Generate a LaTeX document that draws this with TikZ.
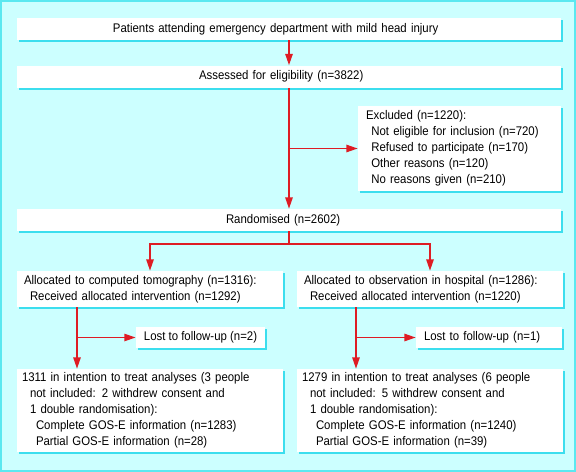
\documentclass[tikz,border=0pt]{standalone}
\usepackage{fontspec}
\setmainfont{Liberation Sans}[FakeStretch=0.91]
\usepackage{xcolor}
\usetikzlibrary{arrows.meta,shadows}
\definecolor{bgcyan}{RGB}{204,255,255}
\definecolor{edgecyan}{RGB}{90,232,240}
\definecolor{shadecyan}{RGB}{60,222,238}
\definecolor{arrowred}{RGB}{222,28,36}
\begin{document}
\begin{tikzpicture}[x=0.75pt,y=-0.75pt,
box/.style={fill=white,inner ysep=0pt,font=\fontsize{9.4}{12}\selectfont,drop shadow={shadow xshift=1.8pt,shadow yshift=-1.8pt,fill=shadecyan,opacity=1}},
wide/.style n args={2}{box,align=left,minimum height=16.5pt,inner xsep=#1,text width=#2},
half/.style={box,align=left,inner xsep=5.25pt,text width=189pt,minimum height=27pt},
result/.style={box,align=left,inner xsep=3.75pt,text width=192pt,minimum height=62.25pt},
lost/.style={box,align=left,inner xsep=6pt,minimum height=15.75pt},
arr/.style={arrowred,line width=1.2pt,-{Triangle[length=8.5pt,width=5.5pt]}}]
\useasboundingbox (0,0) rectangle (576,472);
\fill[bgcyan] (0,0) rectangle (576,472);
\draw[edgecyan,line width=1.5pt] (1,1) rectangle (575,471);
\node (1) at (289,29) [wide={72pt}{264pt}] {Patients attending emergency department with mild head injury};
\node (2) at (289,76.5) [wide={136.5pt}{135pt}] {Assessed for eligibility (n=3822)};
\node (3) at (459.5,148.5) [box,align=left,inner xsep=6pt,text width=140.25pt,minimum height=63.75pt] {Excluded (n=1220):\\\hspace*{4pt}Not eligible for inclusion (n=720)\\\hspace*{4pt}Refused to participate (n=170)\\\hspace*{4pt}Other reasons (n=120)\\\hspace*{4pt}No reasons given (n=210)};
\node (4) at (289,220) [wide={156.75pt}{94.5pt}] {Randomised (n=2602)};
\node (5) at (150,289) [half] {Allocated to computed tomography (n=1316):\\\hspace*{4.5pt}Received allocated intervention (n=1292)};
\node (6) at (430,289) [half] {Allocated to observation in hospital (n=1286):\\\hspace*{4.5pt}Received allocated intervention (n=1220)};
\node (7) at (200.5,337.5) [lost,minimum width=96.75pt] {Lost to follow-up (n=2)};
\node (8) at (489,337.5) [lost,text width=97.5pt] {Lost to follow-up (n=1)};
\node (9) at (150,410.5) [result] {1311 in intention to treat analyses (3 people\\\hspace*{6pt}not included: 2 withdrew consent and\\\hspace*{6pt}1 double randomisation):\\\hspace*{10.5pt}Complete GOS-E information (n=1283)\\\hspace*{10.5pt}Partial GOS-E information (n=28)};
\node (10) at (430,410.5) [result] {1279 in intention to treat analyses (6 people\\\hspace*{6pt}not included: 5 withdrew consent and\\\hspace*{6pt}1 double randomisation):\\\hspace*{10.5pt}Complete GOS-E information (n=1240)\\\hspace*{10.5pt}Partial GOS-E information (n=39)};
\coordinate (a) at (77,307);
\coordinate (b) at (356,307);
\draw[arr] (1) -- (2);
\draw[arr] (2) -- (4);
\draw[arr] (2.south |- 3.west) -- (3.west);
\draw[arr] (4.south) -- ++(0,13) -| (5.north);
\draw[arr] (4.south) -- ++(0,13) -| (6.north);
\draw[arr] (a) -- (a |- 9.north);
\draw[arr] (a |- 7.west) -- (7.west);
\draw[arr] (b) -- (b |- 10.north);
\draw[arr] (b |- 8.west) -- (8.west);
\end{tikzpicture}
\end{document}
